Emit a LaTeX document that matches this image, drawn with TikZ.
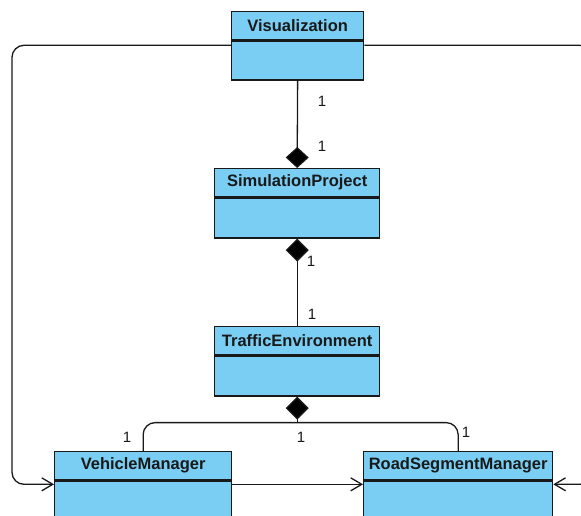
\documentclass[tikz,border=0pt]{standalone}
\usepackage{fontspec}
\setmainfont{Liberation Sans}
\usetikzlibrary{arrows.meta,calc}

\definecolor{classfill}{RGB}{122,206,243}
\definecolor{ink}{RGB}{25,25,25}

\begin{document}
\begin{tikzpicture}[x=1pt,y=-1pt,
  classhead/.style={draw=ink, line width=1.3pt, fill=classfill, rectangle,
    minimum height=28pt, inner sep=0pt, anchor=north west,
    font=\fontsize{16.5}{17}\selectfont\bfseries, text=ink},
  classbody/.style={draw=ink, line width=1.3pt, fill=classfill, rectangle,
    minimum height=40pt, inner sep=0pt, anchor=north},
  conn/.style={draw=ink, line width=1.3pt},
  assoc/.style={conn, -{Straight Barb[length=11pt,width=13pt]}},
  compstart/.style={conn, {Diamond[length=23pt,width=23pt,fill=black]}-},
  compend/.style={conn, -{Diamond[length=21pt,width=23pt,fill=black]}},
  mult/.style={font=\fontsize{15}{15}\selectfont, text=ink, inner sep=0pt}
]
\useasboundingbox (0,0) rectangle (581,515);
\clip (0,0) rectangle (581,515);

% classes: header compartment + empty body compartment
\node[classhead, minimum width=132pt] (vis) at (231,11) {Visualization};
\node[classbody, minimum width=132pt, minimum height=39pt] (visb) at (vis.south) {};

\node[classhead, minimum width=165pt] (sp) at (214,168) {SimulationProject};
\node[classbody, minimum width=165pt] (spb) at (sp.south) {};

\node[classhead, minimum width=165pt] (te) at (214,326) {TrafficEnvironment};
\node[classbody, minimum width=165pt] (teb) at (te.south) {};

\node[classhead, minimum width=177pt] (vm) at (54,451) {VehicleManager};
\node[classbody, minimum width=177pt] (vmb) at (vm.south) {};

\node[classhead, minimum width=189pt] (rs) at (363,451) {RoadSegmentManager};
\node[classbody, minimum width=189pt] (rsb) at (rs.south) {};

% composition links
\draw[compend] (visb.south) -- (sp.north);
\draw[compstart] (spb.south) -- (te.north);
\coordinate (fork) at ($(teb.south)+(0,26)$);
\draw[compstart] (teb.south) -- (fork);
\draw[conn, rounded corners=12pt] (vm.north) |- (fork) -| (rs.north);

% attachment points of the navigable associations
\coordinate (visL) at ([yshift=-5pt]visb.north west);
\coordinate (visR) at ([yshift=-5pt]visb.north east);
\coordinate (vmL) at ([yshift=-4pt]vmb.north west);
\coordinate (vmR) at ([yshift=-4pt]vmb.north east);
\coordinate (rsL) at ([yshift=-4pt]rsb.north west);
\coordinate (rsR) at ([yshift=-4pt]rsb.north east);
\coordinate (leftrail) at (12,0);
\coordinate (rightrail) at (594,0);

% navigable associations
\draw[assoc, rounded corners=12pt] (visL) -| (leftrail |- vmL) -- (vmL);
\draw[assoc, rounded corners=15pt] (visR) -| (rightrail |- rsR) -- (rsR);
\draw[assoc] (vmR) -- (rsL);

% multiplicities
\node[mult] (m1) at (322,101) {1};
\node[mult] (m2) at (322,146) {1};
\node[mult] (m3) at (311,261) {1};
\node[mult] (m4) at (312,314) {1};
\node[mult] (m5) at (127,437) {1};
\node[mult] (m6) at (301,437) {1};
\node[mult] (m7) at (466,432) {1};
\end{tikzpicture}
\end{document}
